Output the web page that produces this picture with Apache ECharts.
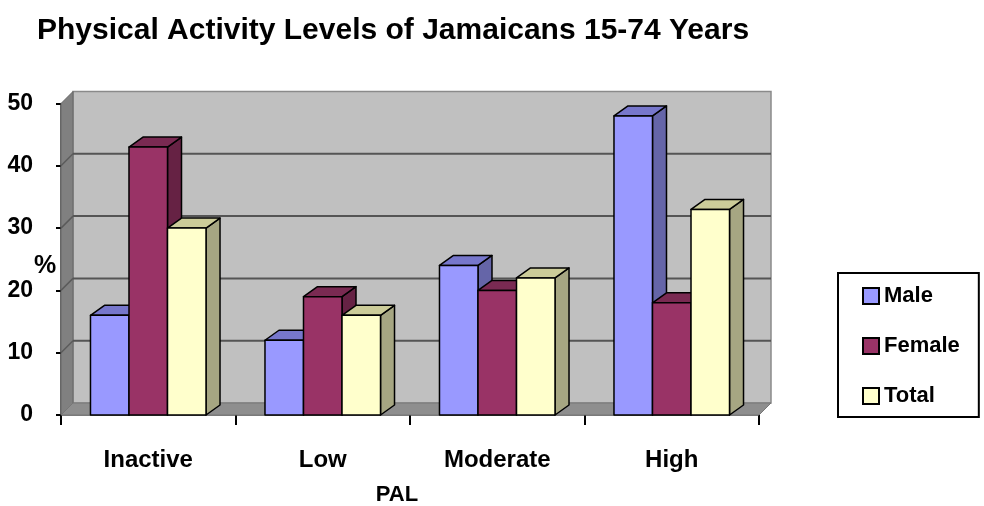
<!DOCTYPE html>
<html>
<head>
<meta charset="utf-8">
<script src="https://cdn.jsdelivr.net/npm/echarts@6/dist/echarts.min.js"></script>
<style>html,body{margin:0;padding:0;background:#fff}#c{width:984px;height:506px}</style>
</head>
<body>
<div id="c"></div>
<script>
var categories = ['Inactive', 'Low', 'Moderate', 'High'];
var male = [16, 12, 24, 48];
var female = [43, 19, 20, 18];
var total = [30, 16, 22, 33];
var seriesNames = ['Male', 'Female', 'Total'];
var yTicks = [0, 10, 20, 30, 40, 50];

var FONT = '"Liberation Sans", Arial, sans-serif';
var WALL_DX = 12, WALL_DY = -12;
var BAR_DX = 14, BAR_DY = -10;
var BAR_FRAC = 0.2207;

var palettes = [
  {front: '#9999FF', top: '#7777CC', side: '#6565A8'},
  {front: '#993366', top: '#7A2A52', side: '#662244'},
  {front: '#FFFFCC', top: '#CCCC99', side: '#A6A682'}
];

function wallRender(params, api) {
  var cs = params.coordSys;
  var x0 = cs.x, x1 = cs.x + cs.width;
  var y0 = api.coord([0, 0])[1];
  var yT = api.coord([0, yTicks[yTicks.length - 1]])[1];
  var children = [];
  children.push({type: 'polygon', shape: {points: [[x0 + WALL_DX, yT + WALL_DY], [x1 + WALL_DX, yT + WALL_DY], [x1 + WALL_DX, y0 + WALL_DY], [x0 + WALL_DX, y0 + WALL_DY]]},
    style: {fill: '#C0C0C0', stroke: '#8a8a8a', lineWidth: 1.5}});
  children.push({type: 'polygon', shape: {points: [[x0, y0], [x0, yT], [x0 + WALL_DX, yT + WALL_DY], [x0 + WALL_DX, y0 + WALL_DY]]},
    style: {fill: '#808080', stroke: '#666', lineWidth: 1}});
  children.push({type: 'polygon', shape: {points: [[x0, y0], [x1, y0], [x1 + WALL_DX, y0 + WALL_DY], [x0 + WALL_DX, y0 + WALL_DY]]},
    style: {fill: '#8E8E8E', stroke: '#777', lineWidth: 1}});
  for (var i = 1; i < yTicks.length - 1; i++) {
    var y = api.coord([0, yTicks[i]])[1];
    children.push({type: 'line', shape: {x1: x0 + WALL_DX, y1: y + WALL_DY, x2: x1 + WALL_DX, y2: y + WALL_DY},
      style: {stroke: '#555', lineWidth: 2}});
    children.push({type: 'line', shape: {x1: x0, y1: y, x2: x0 + WALL_DX, y2: y + WALL_DY},
      style: {stroke: '#5a5a5a', lineWidth: 1.5}});
  }
  return {type: 'group', children: children};
}

function makeBarRender(k) {
  var pal = palettes[k];
  return function (params, api) {
    var cat = api.value(0), v = api.value(1);
    var base = api.coord([cat, 0]);
    var top = api.coord([cat, v]);
    var band = api.size([1, 0])[0];
    var w = band * BAR_FRAC;
    var xa = base[0] + (k - 1.5) * w, xb = xa + w;
    var yb = base[1], yt = top[1];
    var st = {stroke: '#000', lineWidth: 1.5, lineJoin: 'round'};
    return {type: 'group', children: [
      {type: 'polygon', shape: {points: [[xb, yt], [xb + BAR_DX, yt + BAR_DY], [xb + BAR_DX, yb + BAR_DY], [xb, yb]]},
        style: Object.assign({fill: pal.side}, st)},
      {type: 'polygon', shape: {points: [[xa, yt], [xa + BAR_DX, yt + BAR_DY], [xb + BAR_DX, yt + BAR_DY], [xb, yt]]},
        style: Object.assign({fill: pal.top}, st)},
      {type: 'rect', shape: {x: xa, y: yt, width: w, height: yb - yt},
        style: Object.assign({fill: pal.front}, st)}
    ]};
  };
}

var datasets = [male, female, total];
var series = [{
  type: 'custom', name: 'wall', silent: true, z: 1,
  renderItem: wallRender, data: [[0, 0]], clip: false
}];
for (var k = 0; k < 3; k++) {
  series.push({
    type: 'custom', name: seriesNames[k], z: 2 + k, clip: false,
    renderItem: makeBarRender(k),
    itemStyle: {color: palettes[k].front, borderColor: '#000', borderWidth: 1.5},
    data: datasets[k].map(function (v, i) { return [i, v]; }),
    encode: {x: 0, y: 1}
  });
}

var chart = echarts.init(document.getElementById('c'), null, {renderer: 'canvas'});
chart.setOption({
  backgroundColor: '#ffffff',
  animation: false,
  title: [{
    text: 'Physical Activity Levels of Jamaicans 15-74 Years',
    left: 32, top: 11,
    textStyle: {fontFamily: FONT, fontWeight: 'bold', fontSize: 30, color: '#000'}
  }, {
    text: '%',
    left: 34, top: 254, padding: 0,
    textStyle: {fontFamily: FONT, fontWeight: 'bold', fontSize: 25, color: '#000'}
  }],
  legend: {
    data: seriesNames.map(function (n) { return {name: n, icon: 'rect'}; }),
    orient: 'vertical',
    left: 838, top: 273,
    padding: [12, 19, 10, 24],
    itemWidth: 16, itemHeight: 16, itemGap: 28,
    borderColor: '#000', borderWidth: 2,
    itemStyle: {borderColor: '#000', borderWidth: 2},
    textStyle: {fontFamily: FONT, fontWeight: 'bold', fontSize: 22, color: '#000'}
  },
  grid: {left: 61, right: 225, top: 103.5, bottom: 91, containLabel: false, outerBoundsMode: 'none'},
  xAxis: {
    type: 'category', data: categories,
    name: 'PAL', nameLocation: 'middle', nameGap: 69, nameMoveOverlap: false,
    nameTextStyle: {fontFamily: FONT, fontWeight: 'bold', fontSize: 22, color: '#000', padding: [0, 26, 0, 0]},
    axisLine: {show: true, lineStyle: {color: '#555', width: 1.5}},
    axisTick: {show: true, length: 10, lineStyle: {color: '#000', width: 2}},
    axisLabel: {margin: 33, fontFamily: FONT, fontWeight: 'bold', fontSize: 24, color: '#000'},
    splitLine: {show: false}
  },
  yAxis: {
    type: 'value', min: 0, max: 50, interval: 10,
    axisLine: {show: true, lineStyle: {color: '#333', width: 1.5}},
    axisTick: {show: true, length: 5, lineStyle: {color: '#000', width: 2}},
    axisLabel: {margin: 28, fontFamily: FONT, fontWeight: 'bold', fontSize: 23, color: '#000'},
    splitLine: {show: false}
  },
  series: series
});
</script>
</body>
</html>
